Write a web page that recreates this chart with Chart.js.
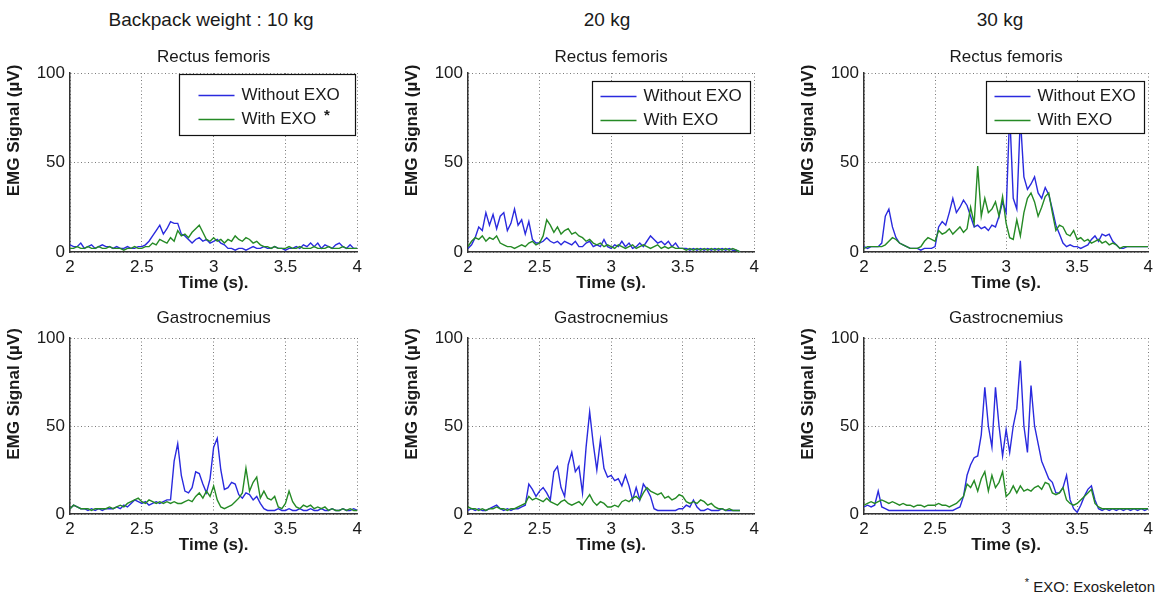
<!DOCTYPE html>
<html>
<head>
<meta charset="utf-8">
<script src="https://cdn.jsdelivr.net/npm/chart.js@4.4.1/dist/chart.umd.min.js"></script>
<style>
  html, body { margin: 0; padding: 0; background: #fff; overflow: hidden; }
  body { width: 1159px; height: 598px; position: relative; font-family: "Liberation Sans", Arial, sans-serif; color: #1a1a1a; }
  canvas { position: absolute; }
  .hdr { position: absolute; font-size: 19px; transform: translate(-50%, -50%); white-space: nowrap; }
  .note { position: absolute; right: 4px; top: 576px; font-size: 15px; white-space: nowrap; }
  .note sup { font-size: 11px; }
</style>
</head>
<body>
<div class="hdr" style="left:211px; top:20px">Backpack weight : 10 kg</div>
<div class="hdr" style="left:607px; top:20px">20 kg</div>
<div class="hdr" style="left:1000px; top:20px">30 kg</div>
<div class="note"><sup>*</sup> EXO: Exoskeleton</div>

<script>
// DADOS (tempo em s, sinal EMG em µV)
const T = [
  2, 2.025, 2.05, 2.075, 2.1, 2.125, 2.15, 2.175, 2.2, 2.225,
  2.25, 2.275, 2.3, 2.325, 2.35, 2.375, 2.4, 2.425, 2.45, 2.475,
  2.5, 2.525, 2.55, 2.575, 2.6, 2.625, 2.65, 2.675, 2.7, 2.725,
  2.75, 2.775, 2.8, 2.825, 2.85, 2.875, 2.9, 2.925, 2.95, 2.975,
  3, 3.025, 3.05, 3.075, 3.1, 3.125, 3.15, 3.175, 3.2, 3.225,
  3.25, 3.275, 3.3, 3.325, 3.35, 3.375, 3.4, 3.425, 3.45, 3.475,
  3.5, 3.525, 3.55, 3.575, 3.6, 3.625, 3.65, 3.675, 3.7, 3.725,
  3.75, 3.775, 3.8, 3.825, 3.85, 3.875, 3.9, 3.925, 3.95, 3.975,
  4
];

const SERIES = ["Without EXO", "With EXO"];
const MUSCLES = ["Rectus femoris", "Gastrocnemius"];
const X_TICKS = [2, 2.5, 3, 3.5, 4];
const Y_TICKS = [0, 50, 100];
const X_TITLE = "Time (s).";
const Y_TITLE = "EMG Signal (µV)";

// Rectus femoris - 10 kg
const RF10_WITHOUT = [
  4, 3, 3, 5, 2, 3, 4, 2, 3, 4,
  3, 3, 2, 3, 2, 2, 3, 2, 2, 3,
  3, 4, 6, 9, 12, 15, 10, 13, 17, 16,
  16, 10, 9, 7, 5, 7, 8, 6, 7, 5,
  6, 7, 5, 4, 2, 2, 1, 2, 2, 1,
  2, 3, 2, 2, 3, 2, 2, 3, 2, 2,
  1, 2, 2, 3, 2, 4, 3, 5, 3, 5,
  2, 4, 3, 2, 4, 5, 3, 2, 4, 2,
  2
];
const RF10_WITH = [
  2, 2, 3, 2, 2, 3, 2, 2, 3, 2,
  2, 3, 2, 2, 2, 1, 2, 2, 3, 2,
  2, 3, 3, 5, 4, 7, 6, 5, 8, 6,
  12, 9, 10, 8, 11, 13, 15, 11, 7, 6,
  8, 6, 7, 5, 7, 6, 9, 7, 6, 8,
  7, 5, 6, 4, 3, 3, 2, 3, 2, 2,
  2, 3, 2, 2, 3, 2, 2, 2, 3, 2,
  2, 2, 3, 2, 2, 2, 3, 2, 2, 2,
  2
];

// Rectus femoris - 20 kg
const RF20_WITHOUT = [
  2, 4, 8, 14, 12, 22, 15, 21, 13, 20,
  22, 12, 16, 24, 15, 18, 10, 17, 7, 5,
  5, 6, 8, 6, 5, 6, 4, 6, 5, 4,
  6, 3, 3, 5, 6, 3, 4, 3, 7, 3,
  2, 4, 3, 6, 3, 5, 2, 3, 5, 3,
  6, 9, 7, 5, 6, 4, 6, 3, 5, 2,
  2, 2, 1, 2, 1, 2, 1, 2, 1, 2,
  1, 2, 1, 2, 1, 1, 0, null, null, null,
  null
];
const RF20_WITH = [
  3, 6, 8, 7, 9, 6, 8, 7, 9, 5,
  4, 3, 3, 2, 3, 4, 3, 5, 6, 4,
  5, 9, 18, 15, 11, 14, 10, 12, 13, 10,
  11, 9, 8, 6, 7, 5, 4, 5, 3, 4,
  3, 2, 4, 3, 2, 3, 4, 2, 3, 4,
  3, 2, 3, 4, 2, 3, 2, 3, 2, 2,
  2, 1, 2, 1, 2, 1, 2, 1, 2, 1,
  2, 1, 2, 1, 2, 1, 0, null, null, null,
  null
];

// Rectus femoris - 30 kg
const RF30_WITHOUT = [
  3, 2, 3, 3, 3, 5, 20, 24, 14, 8,
  5, 4, 3, 2, 2, 2, 1, 2, 2, 2,
  3, 14, 17, 15, 22, 30, 22, 25, 29, 26,
  20, 14, 15, 13, 14, 12, 15, 14, 20, 28,
  22, 78, 30, 24, 75, 42, 35, 38, 42, 33,
  30, 36, 32, 24, 15, 10, 5, 3, 4, 3,
  3, 2, 3, 4, 7, 9, 6, 10, 9, 10,
  6, 4, 2, 2, 3, 3, 3, 3, 3, 3,
  3
];
const RF30_WITH = [
  2, 3, 3, 3, 3, 3, 4, 6, 8, 7,
  5, 4, 3, 2, 2, 2, 3, 6, 8, 7,
  6, 12, 10, 11, 13, 10, 12, 14, 11, 13,
  25, 16, 48, 20, 30, 22, 24, 28, 20, 31,
  16, 8, 7, 18, 9, 22, 30, 33, 28, 20,
  25, 31, 33, 22, 12, 15, 14, 10, 9, 12,
  7, 8, 6, 7, 5, 6, 7, 5, 6, 4,
  5, 4, 2, 3, 3, 3, 3, 3, 3, 3,
  3
];

// Gastrocnemius - 10 kg
const GA10_WITHOUT = [
  3, 5, 4, 3, 3, 2, 3, 2, 3, 2,
  3, 3, 3, 4, 3, 5, 4, 6, 8, 7,
  6, 7, 5, 6, 7, 6, 7, 8, 8, 30,
  40, 22, 13, 12, 15, 24, 23, 17, 12, 20,
  38, 43, 25, 14, 15, 18, 17, 11, 9, 12,
  11, 8, 10, 6, 3, 2, 2, 2, 3, 2,
  2, 3, 2, 2, 3, 2, 2, 3, 2, 2,
  3, 2, 2, 3, 2, 2, 3, 2, 2, 3,
  2
];
const GA10_WITH = [
  3, 5, 4, 3, 3, 3, 2, 3, 3, 3,
  3, 4, 3, 4, 5, 4, 6, 7, 8, 9,
  7, 6, 8, 7, 6, 7, 6, 7, 6, 7,
  6, 6, 7, 8, 7, 10, 12, 9, 13, 10,
  16, 8, 4, 3, 4, 5, 7, 9, 12, 26,
  13, 18, 21, 9, 13, 9, 8, 10, 4, 3,
  6, 13, 7, 4, 3, 5, 4, 5, 3, 4,
  3, 4, 2, 3, 2, 2, 3, 2, 3, 2,
  2
];

// Gastrocnemius - 20 kg
const GA20_WITHOUT = [
  2, 3, 2, 3, 2, 2, 3, 4, 5, 3,
  2, 3, 2, 3, 3, 4, 5, 17, 14, 10,
  13, 15, 12, 8, 24, 27, 15, 10, 28, 35,
  24, 27, 12, 38, 58, 40, 25, 42, 26, 21,
  22, 19, 20, 16, 22, 16, 8, 15, 8, 17,
  14, 10, 3, 2, 2, 2, 2, 2, 2, 3,
  3, 5, 4, 8, 4, 2, 2, 3, 2, 2,
  2, 3, 2, 2, 2, 2, 2, null, null, null,
  null
];
const GA20_WITH = [
  4, 3, 3, 2, 3, 2, 3, 3, 4, 3,
  3, 2, 3, 3, 4, 5, 6, 10, 8, 9,
  8, 7, 9, 7, 6, 5, 7, 8, 6, 5,
  6, 7, 5, 8, 11, 7, 5, 7, 6, 4,
  4, 5, 4, 7, 8, 7, 9, 10, 8, 12,
  15, 13, 12, 11, 12, 9, 10, 8, 9, 11,
  10, 7, 6, 7, 6, 8, 7, 5, 6, 4,
  3, 3, 2, 3, 2, 2, 2, null, null, null,
  null
];

// Gastrocnemius - 30 kg
const GA30_WITHOUT = [
  4, 5, 4, 5, 13, 4, 3, 2, 2, 2,
  2, 2, 2, 2, 2, 2, 2, 2, 2, 2,
  2, 2, 2, 2, 2, 2, 3, 4, 10, 22,
  28, 32, 33, 45, 72, 50, 38, 72, 50, 33,
  48, 35, 50, 60, 87, 50, 35, 73, 50, 40,
  30, 25, 20, 18, 12, 12, 15, 22, 8, 3,
  1, 5, 10, 14, 16, 8, 3, 2, 3, 2,
  3, 2, 3, 2, 3, 2, 3, 2, 3, 2,
  3
];
const GA30_WITH = [
  5, 6, 7, 6, 7, 8, 7, 6, 7, 6,
  5, 6, 5, 5, 4, 5, 5, 4, 5, 5,
  5, 6, 5, 5, 4, 5, 6, 8, 10, 17,
  15, 19, 13, 20, 24, 13, 22, 15, 18, 24,
  10, 12, 16, 12, 16, 13, 14, 13, 15, 16,
  14, 18, 17, 12, 11, 12, 15, 8, 6, 5,
  6, 8, 10, 12, 14, 6, 4, 3, 3, 3,
  3, 3, 3, 3, 3, 3, 3, 3, 3, 3,
  3
];

// ESTILO / LAYOUT
const FONT = '"Liberation Sans", Arial, sans-serif';
const TEXT = "#1a1a1a";
const BLUE = "#2a2ade";
const GREEN = "#258a25";
const GRID = "#7a7a7a";
const AXIS = "#333";

const COLS = [{ left: 70, width: 289 }, { left: 468, width: 288 }, { left: 864, width: 286 }];
const ROWS = [{ top: 73, height: 179, gap: 6 }, { top: 338, height: 176, gap: 10 }];
const Y_AXIS_W = 70, X_AXIS_H = 45, RIGHT_PAD = 8;

const LEGEND_A = { right: 2, top: 1, height: 61, padLeft: 19, padRight: 16, rows: [21, 45], mark: "*" };
const LEGEND_B = { right: 4, top: 8, height: 52, padLeft: 8, padRight: 9, rows: [15, 39] };

const PANELS = [
  { row: 0, col: 0, title: MUSCLES[0], without: RF10_WITHOUT, withExo: RF10_WITH, legend: LEGEND_A },
  { row: 0, col: 1, title: MUSCLES[0], without: RF20_WITHOUT, withExo: RF20_WITH, legend: LEGEND_B },
  { row: 0, col: 2, title: MUSCLES[0], without: RF30_WITHOUT, withExo: RF30_WITH, legend: LEGEND_B },
  { row: 1, col: 0, title: MUSCLES[1], without: GA10_WITHOUT, withExo: GA10_WITH },
  { row: 1, col: 1, title: MUSCLES[1], without: GA20_WITHOUT, withExo: GA20_WITH },
  { row: 1, col: 2, title: MUSCLES[1], without: GA30_WITHOUT, withExo: GA30_WITH }
];

// rótulo do eixo y + legenda com caixa (estilo MATLAB)
const emgDecor = {
  id: "emgDecor",
  afterDraw(chart, args, o) {
    const { ctx, chartArea: a } = chart;
    ctx.save();
    ctx.font = "bold 17px " + FONT;
    ctx.fillStyle = TEXT;
    ctx.translate(a.left - 56, (a.top + a.bottom) / 2 - 32);
    ctx.rotate(-Math.PI / 2);
    ctx.textAlign = "center";
    ctx.textBaseline = "middle";
    ctx.fillText(o.yLabel, 0, 0);
    ctx.restore();

    const L = o.legend;
    if (!L) return;
    ctx.save();
    ctx.font = "17px " + FONT;
    const sets = chart.data.datasets;
    const tw = Math.max(...sets.map(d => ctx.measureText(d.label).width));
    const w = Math.round(L.padLeft + 36 + 7 + tw + L.padRight);
    const x0 = Math.round(a.right - L.right - w) + 0.5;
    const y0 = Math.round(a.top + L.top) + 0.5;
    ctx.fillStyle = "#fff";
    ctx.fillRect(x0, y0, w, L.height);
    ctx.strokeStyle = "#111";
    ctx.lineWidth = 1.2;
    ctx.strokeRect(x0, y0, w, L.height);
    // ordem do array de datasets (0 = sem exo)
    [0, 1].forEach(i => {
      const d = sets.find(s => s.idx === i);
      const y = y0 + L.rows[i];
      ctx.strokeStyle = d.borderColor;
      ctx.lineWidth = 1.4;
      ctx.beginPath();
      ctx.moveTo(x0 + L.padLeft, y);
      ctx.lineTo(x0 + L.padLeft + 36, y);
      ctx.stroke();
      ctx.fillStyle = TEXT;
      ctx.textAlign = "left";
      ctx.textBaseline = "middle";
      ctx.font = "17px " + FONT;
      ctx.fillText(d.label, x0 + L.padLeft + 43, y);
      if (L.mark && i === 1) {
        const tx = x0 + L.padLeft + 43 + ctx.measureText(d.label).width + 8;
        ctx.font = "bold 15px " + FONT;
        ctx.fillText(L.mark, tx, y - 4);
      }
    });
    ctx.restore();
  }
};

function montar(p) {
  const col = COLS[p.col], row = ROWS[p.row];
  const titleBox = 2 + 20 + row.gap;
  const cv = document.createElement("canvas");
  cv.width = Y_AXIS_W + col.width + RIGHT_PAD;
  cv.height = titleBox + row.height + X_AXIS_H;
  cv.style.left = (col.left - Y_AXIS_W) + "px";
  cv.style.top = (row.top - titleBox) + "px";
  document.body.appendChild(cv);

  const tickFont = { size: 17, family: FONT };
  const gridOpts = { color: GRID, lineWidth: 1, drawTicks: false };
  const borderOpts = { display: true, color: AXIS, width: 1.5, dash: [1, 2.5] };

  new Chart(cv, {
    type: "line",
    data: {
      datasets: [
        { idx: 0, label: SERIES[0], data: T.map((t, i) => ({ x: t, y: p.without[i] })),
          borderColor: BLUE, borderWidth: 1.4, pointRadius: 0, tension: 0, fill: false, order: 1 },
        { idx: 1, label: SERIES[1], data: T.map((t, i) => ({ x: t, y: p.withExo[i] })),
          borderColor: GREEN, borderWidth: 1.4, pointRadius: 0, tension: 0, fill: false, order: 0 }
      ]
    },
    options: {
      responsive: false,
      animation: false,
      devicePixelRatio: 1,
      events: [],
      layout: { padding: { left: 0, right: RIGHT_PAD, top: 0, bottom: 0 } },
      plugins: {
        legend: { display: false },
        tooltip: { enabled: false },
        title: {
          display: true, text: p.title, color: TEXT, fullSize: false,
          font: { size: 17, weight: "normal", family: FONT, lineHeight: "20px" },
          padding: { top: 2, bottom: row.gap }
        },
        emgDecor: { yLabel: Y_TITLE, legend: p.legend || null }
      },
      scales: {
        x: {
          type: "linear", min: 2, max: 4,
          afterBuildTicks: s => { s.ticks = X_TICKS.map(v => ({ value: v })); },
          afterFit: s => { s.height = X_AXIS_H; },
          ticks: { padding: 5, color: TEXT, font: tickFont, maxRotation: 0, autoSkip: false, callback: v => String(v) },
          grid: gridOpts,
          border: borderOpts,
          title: { display: true, text: X_TITLE, color: TEXT, font: { size: 17, weight: "bold", family: FONT }, padding: { top: 0, bottom: 3 } }
        },
        y: {
          type: "linear", min: 0, max: 100,
          afterBuildTicks: s => { s.ticks = Y_TICKS.map(v => ({ value: v })); },
          afterFit: s => { s.width = Y_AXIS_W; },
          ticks: { padding: 5, color: TEXT, font: tickFont, callback: v => String(v) },
          grid: gridOpts,
          border: borderOpts
        }
      }
    },
    plugins: [emgDecor]
  });
}

PANELS.forEach(montar);
</script>
</body>
</html>
